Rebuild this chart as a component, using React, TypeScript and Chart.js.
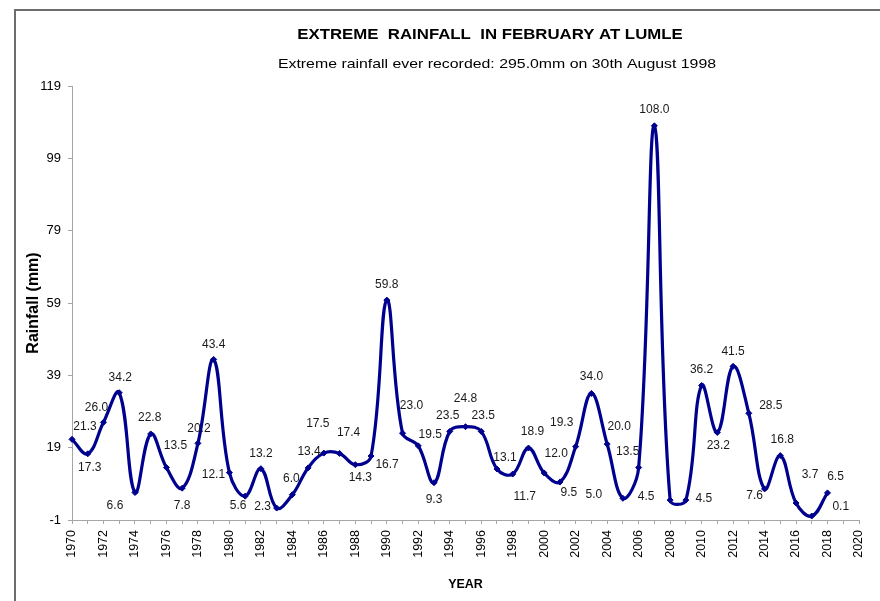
import React, { useEffect, useRef } from 'react';
import { Chart, registerables } from 'chart.js';

Chart.register(...registerables);

const FONT = '"Liberation Sans", Arial, sans-serif';

const years = [
  1970, 1971, 1972, 1973, 1974, 1975, 1976, 1977, 1978, 1979,
  1980, 1981, 1982, 1983, 1984, 1985, 1986, 1987, 1988, 1989,
  1990, 1991, 1992, 1993, 1994, 1995, 1996, 1997, 1998, 1999,
  2000, 2001, 2002, 2003, 2004, 2005, 2006, 2007, 2008, 2009,
  2010, 2011, 2012, 2013, 2014, 2015, 2016, 2017, 2018,
];

const rainfall = [
  21.3, 17.3, 26.0, 34.2, 6.6, 22.8, 13.5, 7.8, 20.2, 43.4,
  12.1, 5.6, 13.2, 2.3, 6.0, 13.4, 17.5, 17.4, 14.3, 16.7,
  59.8, 23.0, 19.5, 9.3, 23.5, 24.8, 23.5, 13.1, 11.7, 18.9,
  12.0, 9.5, 19.3, 34.0, 20.0, 5.0, 13.5, 108.0, 4.5, 4.5,
  36.2, 23.2, 41.5, 28.5, 7.6, 16.8, 3.7, 0.1, 6.5,
];

const yTickValues = [-1, 19, 39, 59, 79, 99, 119];

const xTickYears = [
  1970, 1971, 1972, 1973, 1974, 1975, 1976, 1977, 1978, 1979,
  1980, 1981, 1982, 1983, 1984, 1985, 1986, 1987, 1988, 1989,
  1990, 1991, 1992, 1993, 1994, 1995, 1996, 1997, 1998, 1999,
  2000, 2001, 2002, 2003, 2004, 2005, 2006, 2007, 2008, 2009,
  2010, 2011, 2012, 2013, 2014, 2015, 2016, 2017, 2018, 2019, 2020,
];

// data label offsets (px) relative to each point (style only)
const labelDx = [
  13, 2, -7, 1, -20, -1, 9, 0, 1, 0,
  -16, -7, 0, -14, -1, 1, -6, 9, 5, 16,
  0, 9, 12, 0, -2, 0, 2, 8, 12, 4,
  12, 9, -14, 0, 12, -29, -11, 0, -24, 18,
  0, 1, 0, 22, -10, 2, 14, 29, 8,
];
const labelDy = [
  -13, 14, -15, -15, 13, -16, -22, 18, -15, -15,
  2, 10, -15, -1, -16, -16, -29, -21, 13, 9,
  -15, -28, -11, 17, -16, -28, -16, -11, 23, -16,
  -19, 11, -24, -17, -17, -4, -16, -16, -3, -1,
  -16, 13, -15, -8, 7, -16, -28, -9, -16,
];

const TITLE = 'EXTREME  RAINFALL  IN FEBRUARY AT LUMLE';
const SUBTITLE = 'Extreme rainfall ever recorded: 295.0mm on 30th August 1998';
const X_TITLE = 'YEAR';
const Y_TITLE = 'Rainfall (mm)';

const LINE_COLOR = '#00008f';
const AXIS_COLOR = '#a6a6a6';

const overlayPlugin = {
  id: 'overlay',
  afterDatasetsDraw(chart: any) {
    const ctx = chart.ctx as CanvasRenderingContext2D;
    const meta = chart.getDatasetMeta(0);
    ctx.save();
    ctx.fillStyle = '#1a1a1a';
    ctx.textAlign = 'center';
    ctx.textBaseline = 'middle';
    ctx.font = `12px ${FONT}`;
    meta.data.forEach((pt: any, i: number) => {
      ctx.fillText(rainfall[i].toFixed(1), pt.x + labelDx[i], pt.y + labelDy[i]);
    });

    // titles (horizontally stretched like the reference)
    ctx.fillStyle = '#000';
    ctx.save();
    ctx.translate(490, 35);
    ctx.scale(1.2, 1);
    ctx.font = `bold 14px ${FONT}`;
    ctx.fillText(TITLE, 0, 0);
    ctx.restore();

    ctx.save();
    ctx.translate(497, 64);
    ctx.scale(1.22, 1);
    ctx.font = `13px ${FONT}`;
    ctx.fillText(SUBTITLE, 0, 0);
    ctx.restore();

    ctx.restore();
  },
};

export default function App() {
  const canvasRef = useRef<HTMLCanvasElement | null>(null);

  useEffect(() => {
    if (!canvasRef.current) return;
    const chart = new Chart(canvasRef.current, {
      type: 'line',
      data: {
        datasets: [
          {
            data: years.map((yr, i) => ({ x: yr, y: rainfall[i] })),
            borderColor: LINE_COLOR,
            backgroundColor: LINE_COLOR,
            borderWidth: 3.2,
            tension: 0.4,
            pointStyle: 'rectRot',
            pointRadius: 3,
            pointBorderWidth: 1,
            pointBorderColor: LINE_COLOR,
            pointBackgroundColor: LINE_COLOR,
            clip: false as any,
          },
        ],
      },
      options: {
        responsive: false,
        animation: false,
        devicePixelRatio: 1,
        layout: { padding: { left: 20, top: 86, right: 15, bottom: 5 } },
        plugins: {
          legend: { display: false },
          tooltip: { enabled: false },
          title: { display: false },
        },
        scales: {
          x: {
            type: 'linear',
            min: 1970,
            max: 2020,
            afterBuildTicks: (s: any) => {
              s.ticks = xTickYears.map((v) => ({ value: v }));
            },
            afterFit: (s: any) => {
              s.height = 76;
            },
            ticks: {
              autoSkip: false,
              minRotation: 90,
              maxRotation: 90,
              padding: 6,
              color: '#000',
              font: { family: FONT, size: 12.5 },
              callback: (v: any) => (Number(v) % 2 === 0 ? String(v) : ''),
            },
            grid: {
              drawOnChartArea: false,
              drawTicks: true,
              tickLength: 4,
              color: AXIS_COLOR,
            },
            border: { display: true, color: AXIS_COLOR, width: 1 },
            title: {
              display: true,
              text: X_TITLE,
              color: '#000',
              font: { family: FONT, size: 12.5, weight: 'bold' },
              padding: { top: 4, bottom: 4 },
            },
          },
          y: {
            type: 'linear',
            min: -1,
            max: 119,
            afterBuildTicks: (s: any) => {
              s.ticks = yTickValues.map((v) => ({ value: v }));
            },
            afterFit: (s: any) => {
              s.width = 52;
            },
            ticks: {
              padding: 7,
              color: '#000',
              font: { family: FONT, size: 13 },
            },
            grid: {
              drawOnChartArea: false,
              drawTicks: true,
              tickLength: 4,
              color: AXIS_COLOR,
            },
            border: { display: true, color: AXIS_COLOR, width: 1 },
            title: {
              display: true,
              text: Y_TITLE,
              color: '#000',
              font: { family: FONT, size: 16, weight: 'bold' },
              padding: { top: 4, bottom: 4 },
            },
          },
        },
      },
      plugins: [overlayPlugin],
    } as any);
    return () => chart.destroy();
  }, []);

  return (
    <>
      <div
        style={{
          position: 'fixed',
          left: 14,
          top: 9,
          width: 866,
          height: 592,
          borderLeft: '2px solid #6d6d6d',
          borderTop: '2px solid #6d6d6d',
          background: '#fff',
        }}
      />
      <canvas
        ref={canvasRef}
        width={880}
        height={601}
        style={{ position: 'fixed', left: 0, top: 0, width: 880, height: 601 }}
      />
    </>
  );
}
